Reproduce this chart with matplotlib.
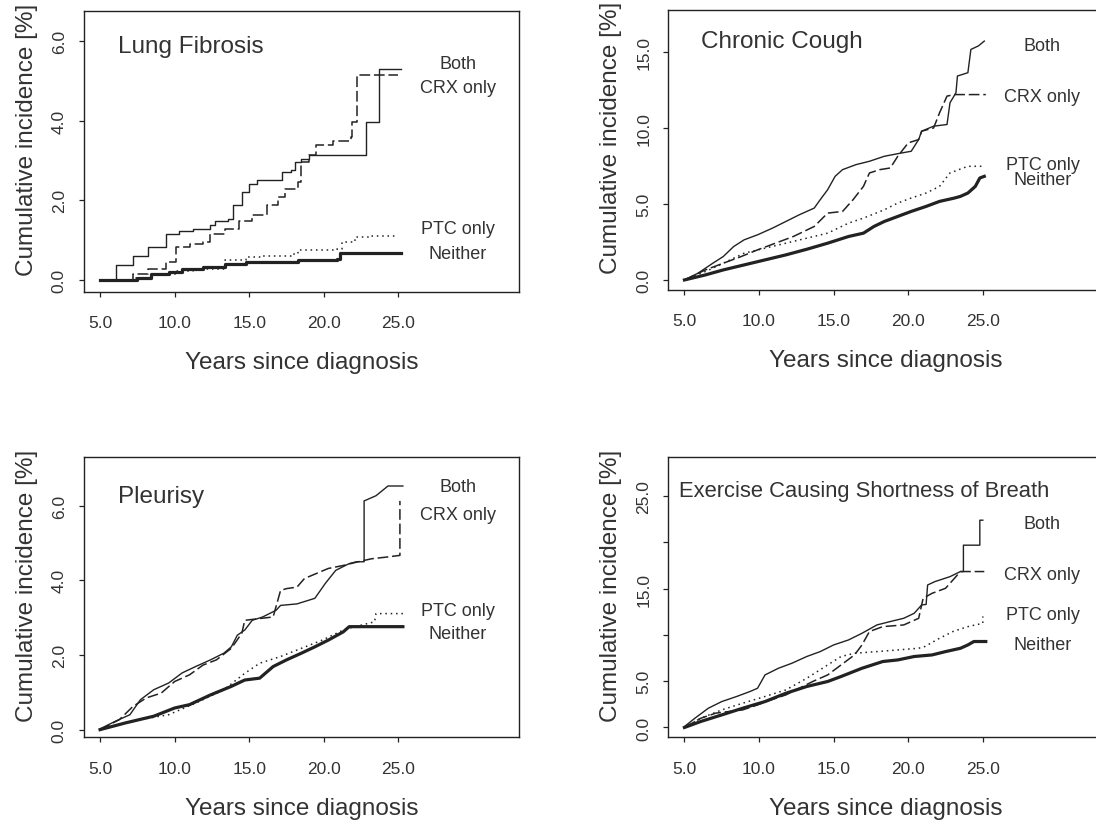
import matplotlib.pyplot as plt

plt.rcParams['font.family'] = ['Liberation Sans', 'DejaVu Sans']

groups = ['Both', 'CRX only', 'PTC only', 'Neither']
x_ticks = [5, 10, 15, 20, 25]
x_ticklabels = ['5.0', '10.0', '15.0', '20.0', '25.0']

# --- Lung Fibrosis (few events -> drawn as steps)
lf_both_x = [5.0, 6.1, 7.2, 8.2, 9.4, 10.3, 11.2, 12.4, 12.7, 13.6, 13.9, 14.5, 15.0, 15.5, 17.2, 17.8, 18.1, 18.5, 19.0, 22.8, 23.7, 25.2]
lf_both_y = [0.0, 0.36, 0.61, 0.82, 1.16, 1.24, 1.28, 1.37, 1.49, 1.53, 1.87, 2.2, 2.41, 2.5, 2.7, 2.75, 2.96, 3.04, 3.13, 3.98, 5.3, 5.3]
lf_crx_x = [5.0, 7.2, 8.2, 9.4, 10.1, 11.0, 11.9, 12.4, 13.4, 14.3, 15.2, 16.2, 16.9, 17.4, 18.3, 18.5, 19.0, 19.5, 20.6, 21.8, 21.9, 22.2, 25.0]
lf_crx_y = [0.0, 0.15, 0.28, 0.44, 0.82, 0.9, 0.95, 1.16, 1.28, 1.49, 1.62, 1.87, 2.08, 2.29, 2.46, 2.96, 3.13, 3.38, 3.5, 3.59, 3.96, 5.14, 5.14]
lf_ptc_x = [5.0, 7.2, 8.4, 10.1, 11.2, 13.4, 14.8, 15.9, 17.8, 18.3, 20.9, 21.2, 22.1, 23.0, 25.0]
lf_ptc_y = [0.0, 0.04, 0.15, 0.23, 0.28, 0.49, 0.57, 0.61, 0.65, 0.74, 0.78, 0.95, 1.07, 1.1, 1.1]
lf_nei_x = [5.0, 7.5, 8.4, 9.6, 10.5, 11.9, 13.4, 14.8, 18.3, 20.9, 21.1, 25.2]
lf_nei_y = [0.0, 0.04, 0.15, 0.19, 0.28, 0.32, 0.4, 0.44, 0.49, 0.53, 0.68, 0.68]
lf_label_y = [5.45, 4.84, 1.28, 0.67]

# --- Chronic Cough (dense events -> vertices joined)
cc_both_x = [5.0, 5.9, 6.9, 7.6, 8.3, 9.0, 9.9, 10.9, 11.8, 12.7, 13.7, 14.1, 14.6, 15.1, 15.6, 16.5, 17.4, 18.4, 19.3, 20.2, 20.7, 20.9, 21.7, 22.6, 22.8, 23.2, 23.3, 24.0, 24.2, 24.7, 25.1]
cc_both_y = [0.0, 0.44, 1.1, 1.54, 2.2, 2.64, 2.97, 3.41, 3.85, 4.29, 4.73, 5.28, 5.94, 6.82, 7.26, 7.59, 7.81, 8.14, 8.31, 8.47, 9.24, 9.79, 10.12, 10.23, 11.66, 12.32, 13.42, 13.64, 15.17, 15.4, 15.72]
cc_crx_x = [5.0, 6.4, 7.6, 8.8, 9.9, 11.1, 12.3, 13.7, 14.6, 15.6, 16.3, 17.0, 17.4, 18.1, 18.8, 19.3, 20.0, 20.7, 20.9, 21.7, 22.1, 22.6, 23.1, 25.2]
cc_crx_y = [0.0, 0.66, 1.1, 1.54, 1.98, 2.42, 2.86, 3.52, 4.4, 4.51, 5.28, 6.16, 7.04, 7.26, 7.37, 8.14, 9.02, 9.24, 9.79, 10.0, 11.0, 12.1, 12.2, 12.2]
cc_ptc_x = [5.0, 6.4, 7.6, 9.0, 10.4, 11.8, 13.2, 14.6, 16.0, 17.0, 18.4, 19.3, 20.2, 21.2, 22.1, 22.8, 23.5, 24.0, 25.1]
cc_ptc_y = [0.0, 0.55, 1.1, 1.76, 2.09, 2.42, 2.75, 3.08, 3.74, 4.07, 4.62, 5.06, 5.39, 5.72, 6.16, 7.04, 7.3, 7.48, 7.48]
cc_nei_x = [5.0, 6.4, 7.6, 9.0, 10.4, 11.8, 13.2, 14.6, 16.0, 17.0, 17.7, 18.4, 19.3, 20.2, 21.2, 22.1, 23.1, 23.5, 24.0, 24.5, 24.8, 25.1]
cc_nei_y = [0.0, 0.33, 0.66, 0.99, 1.32, 1.65, 2.02, 2.42, 2.86, 3.08, 3.52, 3.85, 4.18, 4.51, 4.84, 5.17, 5.39, 5.5, 5.72, 6.16, 6.71, 6.82]
cc_label_y = [15.4, 12.1, 7.59, 6.6]

# --- Pleurisy
pl_both_x = [5.0, 6.0, 7.0, 7.7, 8.6, 9.6, 10.5, 11.4, 12.4, 13.3, 13.8, 14.2, 14.7, 15.2, 15.9, 16.8, 17.1, 18.2, 19.4, 20.1, 20.8, 21.7, 22.2, 22.7, 22.7, 23.5, 23.9, 24.3, 25.3]
pl_both_y = [0.02, 0.22, 0.4, 0.8, 1.07, 1.25, 1.52, 1.69, 1.87, 2.05, 2.22, 2.53, 2.67, 2.93, 3.02, 3.2, 3.33, 3.37, 3.52, 3.92, 4.27, 4.45, 4.5, 4.5, 6.13, 6.27, 6.4, 6.53, 6.53]
pl_crx_x = [5.0, 6.3, 7.2, 8.1, 9.1, 10.0, 11.0, 11.9, 12.8, 13.8, 14.5, 14.7, 16.6, 17.1, 17.5, 18.2, 18.7, 20.3, 21.3, 22.2, 23.2, 24.1, 25.1, 25.1]
pl_crx_y = [0.0, 0.27, 0.62, 0.85, 0.98, 1.29, 1.47, 1.73, 1.87, 2.18, 2.58, 2.93, 3.02, 3.73, 3.78, 3.82, 4.05, 4.32, 4.4, 4.49, 4.58, 4.62, 4.67, 6.13]
pl_ptc_x = [5.0, 7.7, 9.6, 11.4, 13.3, 14.7, 15.7, 17.1, 18.5, 19.9, 21.3, 21.7, 23.4, 23.5, 25.3]
pl_ptc_y = [0.0, 0.27, 0.4, 0.71, 1.07, 1.51, 1.78, 1.96, 2.18, 2.4, 2.67, 2.72, 2.89, 3.11, 3.11]
pl_nei_x = [5.0, 6.7, 8.6, 10.0, 11.0, 12.4, 13.8, 14.7, 15.7, 16.6, 17.5, 18.5, 19.4, 20.3, 21.3, 21.7, 25.3]
pl_nei_y = [0.0, 0.18, 0.36, 0.58, 0.67, 0.93, 1.16, 1.33, 1.38, 1.69, 1.87, 2.05, 2.22, 2.4, 2.62, 2.76, 2.76]
pl_label_y = [6.53, 5.76, 3.2, 2.58]

# --- Exercise Causing Shortness of Breath
ex_both_x = [5.0, 5.7, 6.6, 7.5, 8.5, 9.4, 9.9, 10.4, 11.3, 12.2, 13.2, 14.1, 15.0, 16.0, 16.9, 17.9, 18.8, 19.7, 20.4, 20.9, 21.2, 21.3, 21.8, 22.8, 23.5, 23.7, 23.7, 24.8, 24.8, 25.0]
ex_both_y = [0.1, 1.0, 2.08, 2.8, 3.35, 3.89, 4.24, 5.68, 6.4, 6.94, 7.67, 8.2, 8.92, 9.46, 10.18, 11.08, 11.45, 11.8, 12.34, 13.24, 13.3, 15.4, 15.77, 16.3, 16.85, 16.85, 19.7, 19.7, 22.4, 22.4]
ex_crx_x = [5.0, 6.1, 7.1, 8.0, 8.9, 9.9, 10.8, 11.8, 12.7, 13.6, 14.6, 15.5, 16.4, 16.9, 17.4, 18.3, 19.7, 20.7, 21.0, 21.6, 22.5, 23.0, 23.5, 25.1]
ex_crx_y = [0.0, 1.0, 1.55, 1.73, 1.9, 2.44, 2.98, 3.52, 4.24, 4.97, 5.68, 6.76, 7.84, 8.92, 10.37, 10.9, 11.08, 11.8, 13.96, 14.5, 15.04, 15.94, 16.85, 16.85]
ex_ptc_x = [5.0, 6.1, 7.5, 8.9, 10.4, 11.8, 13.2, 14.6, 15.5, 16.4, 17.9, 19.3, 20.7, 21.1, 22.1, 23.0, 24.0, 25.0, 25.0]
ex_ptc_y = [0.0, 1.0, 1.9, 2.62, 3.35, 4.06, 5.32, 6.76, 7.67, 8.02, 8.2, 8.38, 8.56, 8.74, 9.64, 10.37, 10.9, 11.26, 12.0]
ex_nei_x = [5.0, 6.1, 7.5, 8.9, 10.4, 11.8, 13.2, 14.6, 15.5, 16.9, 18.3, 19.3, 20.4, 21.6, 22.5, 23.5, 24.0, 24.4, 25.2]
ex_nei_y = [0.0, 0.65, 1.36, 2.08, 2.8, 3.7, 4.43, 4.97, 5.51, 6.4, 7.13, 7.3, 7.67, 7.84, 8.2, 8.56, 8.92, 9.29, 9.29]
ex_label_y = [22.06, 16.55, 12.16, 8.92]

panels = [
    dict(title='Lung Fibrosis', tsize=17.5, tpos=(6.17, 5.89), draw='steps-post',
         curves=[(lf_both_x, lf_both_y), (lf_crx_x, lf_crx_y), (lf_ptc_x, lf_ptc_y), (lf_nei_x, lf_nei_y)],
         label_y=lf_label_y, ylim=(-0.30, 6.77),
         yticks=[0, 2, 4, 6], yticklabels=['0.0', '2.0', '4.0', '6.0'],
         rect=[0.0766, 0.6469, 0.3969, 0.3390]),
    dict(title='Chronic Cough', tsize=17.5, tpos=(6.1, 15.73), draw='default',
         curves=[(cc_both_x, cc_both_y), (cc_crx_x, cc_crx_y), (cc_ptc_x, cc_ptc_y), (cc_nei_x, cc_nei_y)],
         label_y=cc_label_y, ylim=(-0.66, 17.77),
         yticks=[0, 5, 10, 15], yticklabels=['0.0', '5.0', '10.0', '15.0'],
         rect=[0.6098, 0.6490, 0.3969, 0.3378]),
    dict(title='Pleurisy', tsize=17.5, tpos=(6.17, 6.27), draw='default',
         curves=[(pl_both_x, pl_both_y), (pl_crx_x, pl_crx_y), (pl_ptc_x, pl_ptc_y), (pl_nei_x, pl_nei_y)],
         label_y=pl_label_y, ylim=(-0.21, 7.30),
         yticks=[0, 2, 4, 6], yticklabels=['0.0', '2.0', '4.0', '6.0'],
         rect=[0.0766, 0.1092, 0.3969, 0.3380]),
    dict(title='Exercise Causing Shortness of Breath', tsize=15.8, tpos=(4.66, 25.66), draw='default',
         curves=[(ex_both_x, ex_both_y), (ex_crx_x, ex_crx_y), (ex_ptc_x, ex_ptc_y), (ex_nei_x, ex_nei_y)],
         label_y=ex_label_y, ylim=(-1.08, 29.2),
         yticks=[0, 5, 10, 15, 20, 25], yticklabels=['0.0', '5.0', '', '15.0', '', '25.0'],
         rect=[0.6098, 0.1092, 0.3969, 0.3380]),
]

styles = [
    dict(lw=1.0, ls='-'),
    dict(lw=1.1, ls=(0, (7, 2.5))),
    dict(lw=1.1, ls=(0, (1, 2.5))),
    dict(lw=2.3, ls='-'),
]

ink = '#222222'
txt = '#333333'

fig = plt.figure(figsize=(10.96, 8.29), dpi=100)

for p in panels:
    ax = fig.add_axes(p['rect'])
    for (xs, ys), st in zip(p['curves'], styles):
        ax.plot(xs, ys, drawstyle=p['draw'], color=ink, **st)
    for name, ly in zip(groups, p['label_y']):
        ax.text(29, ly, name, ha='center', va='center', fontsize=13, color=txt)
    ax.text(p['tpos'][0], p['tpos'][1], p['title'], ha='left', va='center',
            fontsize=p['tsize'], color=txt)
    ax.set_xlim(3.92, 33.08)
    ax.set_ylim(*p['ylim'])
    ax.set_xticks(x_ticks)
    ax.set_xticklabels(x_ticklabels)
    ax.set_yticks(p['yticks'])
    ax.set_yticklabels(p['yticklabels'], rotation=90, va='center')
    ax.tick_params(axis='both', direction='out', length=3.8, width=0.9,
                   color=ink, labelcolor=txt, labelsize=12.5)
    ax.tick_params(axis='x', pad=13)
    ax.tick_params(axis='y', pad=8.5)
    for s in ax.spines.values():
        s.set_color(ink)
        s.set_linewidth(1.0)
    ax.set_xlabel('Years since diagnosis', fontsize=17.5, color=txt)
    ax.xaxis.set_label_coords(0.5, -0.25)
    ax.xaxis.label.set_va('center')
    ax.set_ylabel('Cumulative incidence [%]', fontsize=17.5, color=txt)
    ax.yaxis.set_label_coords(-0.131, 0.545)
    ax.yaxis.label.set_va('center')

fig.savefig('out.png', dpi=100)
